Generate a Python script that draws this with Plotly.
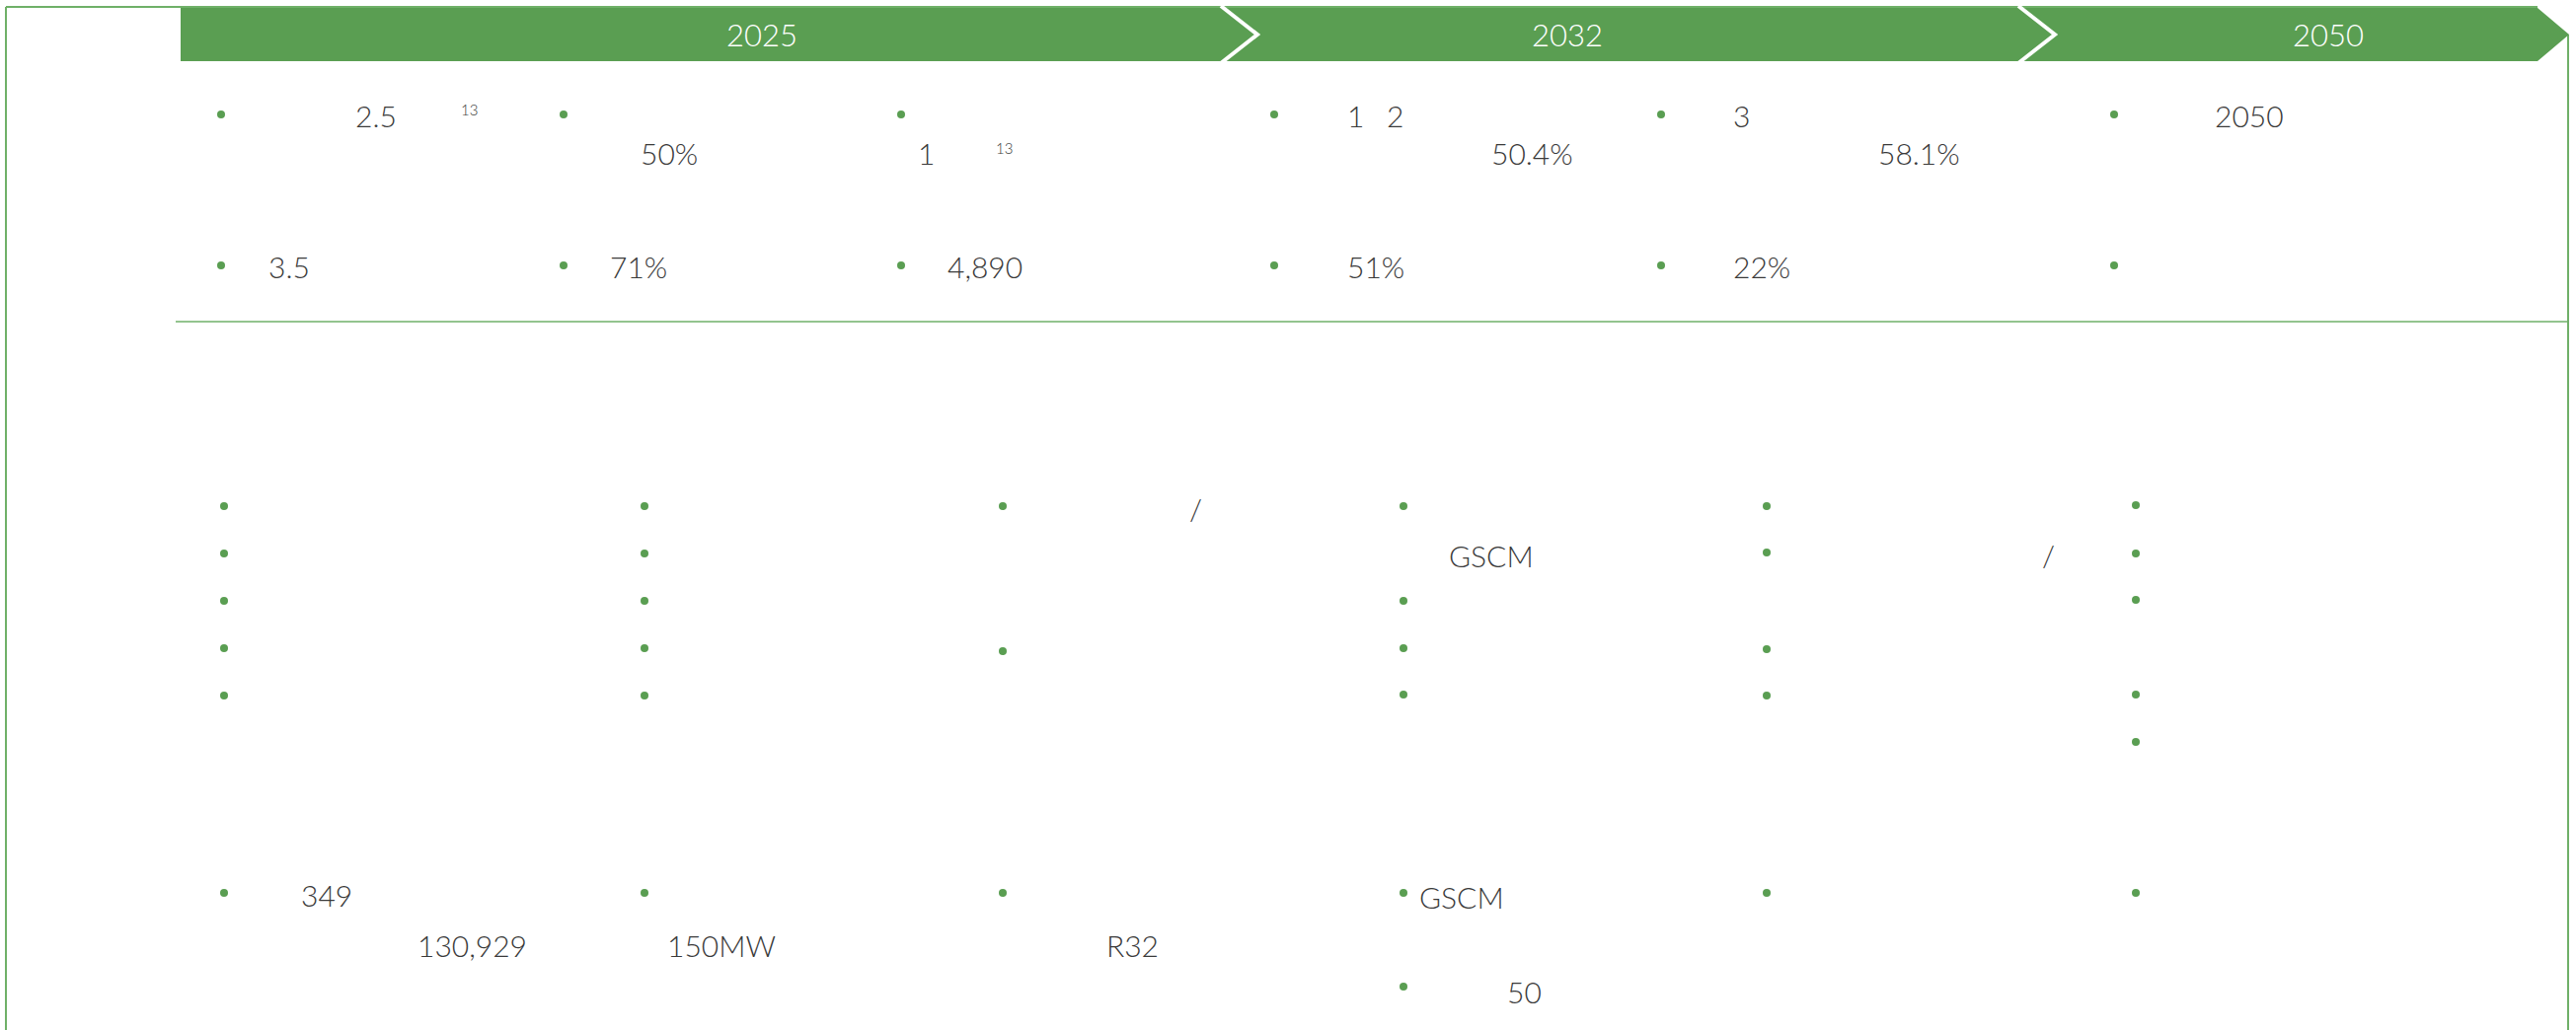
import plotly.graph_objects as go

W, H = 2610, 1044
GREEN = "#5a9e52"
LINE = "#6fb068"
TEXT = "#3a3a3a"

# ---- stage headings ----
years = ["2025", "2032", "2050"]
year_x = [772, 1588, 2359]

# ---- visible text fragments (Latin/numeric parts of the infographic) ----
frag_text = ["2.5", "50%", "1", "1", "2", "50.4%", "3", "58.1%", "2050",
             "3.5", "71%", "4,890", "51%", "22%",
             "/", "GSCM", "/",
             "349", "130,929", "150MW", "R32", "GSCM", "50"]
frag_x = [359, 648, 929, 1364, 1404, 1510, 1755, 1902, 2243,
          271, 617, 959, 1364, 1755,
          1204, 1467, 2068,
          304, 422, 675, 1120, 1437, 1526]
frag_y = [117, 155, 155, 117, 117, 155, 117, 155, 117,
          270, 270, 270, 270, 270,
          515, 563, 562,
          907, 958, 958, 958, 909, 1005]

# footnote marks
note_text = ["13", "13"]
note_x = [466, 1008]
note_y = [111, 150]

# ---- bullet markers ----
bullet_x = [224, 571, 913, 1291, 1683, 2142,
            224, 571, 913, 1291, 1683, 2142,
            227, 227, 227, 227, 227,
            653, 653, 653, 653, 653,
            1016, 1016,
            1422, 1422, 1422, 1422,
            1790, 1790, 1790, 1790,
            2164, 2164, 2164, 2164, 2164,
            227, 653, 1016, 1422, 1422, 1790, 2164]
bullet_y = [116, 116, 116, 116, 116, 116,
            269, 269, 269, 269, 269, 269,
            513, 561, 609, 657, 705,
            513, 561, 609, 657, 705,
            513, 660,
            513, 609, 657, 704,
            513, 560, 658, 705,
            512, 561, 608, 704, 752,
            905, 905, 905, 905, 1000, 905, 905]

fig = go.Figure()

fig.add_trace(go.Scatter(
    x=bullet_x, y=bullet_y, mode="markers",
    marker=dict(size=8, color=GREEN, line=dict(width=0)),
    hoverinfo="skip", showlegend=False))

shapes = []
# outer frame
shapes.append(dict(type="line", x0=6, y0=7, x1=2571, y1=7, line=dict(color=LINE, width=2)))
shapes.append(dict(type="line", x0=6, y0=7, x1=6, y1=1044, line=dict(color=LINE, width=2)))
shapes.append(dict(type="line", x0=2602, y0=35, x1=2602, y1=1044, line=dict(color=LINE, width=2)))
# separator under top section
shapes.append(dict(type="line", x0=178, y0=326, x1=2602, y1=326, line=dict(color=LINE, width=1.5)))
# green timeline bar with arrow end
shapes.append(dict(type="path", path="M 183 8 L 2571 8 L 2603 35 L 2571 62 L 183 62 Z",
                   fillcolor=GREEN, line=dict(width=0)))
# white chevron separators
for cx in [1237, 2045]:
    shapes.append(dict(type="path", path=f"M {cx} 6 L {cx+37} 35 L {cx} 64",
                       line=dict(color="white", width=4)))
for s in shapes:
    s["xref"] = "x"
    s["yref"] = "y"
    s["layer"] = "below"

FONT = "Lato"
annotations = []
for t, x in zip(years, year_x):
    annotations.append(dict(x=x, y=35, text=t, showarrow=False, xanchor="center", yanchor="middle",
                            font=dict(family=FONT, size=31, color="white", weight=300)))
for t, x, y in zip(frag_text, frag_x, frag_y):
    annotations.append(dict(x=x, y=y, text=t, showarrow=False, xanchor="left", yanchor="middle",
                            font=dict(family=FONT, size=30, color=TEXT, weight=300)))
for t, x, y in zip(note_text, note_x, note_y):
    annotations.append(dict(x=x, y=y, text=t, showarrow=False, xanchor="left", yanchor="middle",
                            font=dict(family=FONT, size=15, color=TEXT, weight=300)))
for a in annotations:
    a["xref"] = "x"
    a["yref"] = "y"
    a["borderpad"] = 0

fig.update_layout(
    width=W, height=H,
    margin=dict(l=0, r=0, t=0, b=0),
    paper_bgcolor="white", plot_bgcolor="white",
    xaxis=dict(range=[0, W], visible=False, fixedrange=True),
    yaxis=dict(range=[H, 0], visible=False, fixedrange=True),
    shapes=shapes, annotations=annotations, showlegend=False,
)

fig.write_html("out.html", config={"displayModeBar": False})

# remove the default page margin so the figure sits at the window origin
with open("out.html", encoding="utf-8") as f:
    html = f.read()
html = html.replace("<head>", "<head><style>html,body{margin:0;padding:0;overflow:hidden;}</style>", 1)
with open("out.html", "w", encoding="utf-8") as f:
    f.write(html)
